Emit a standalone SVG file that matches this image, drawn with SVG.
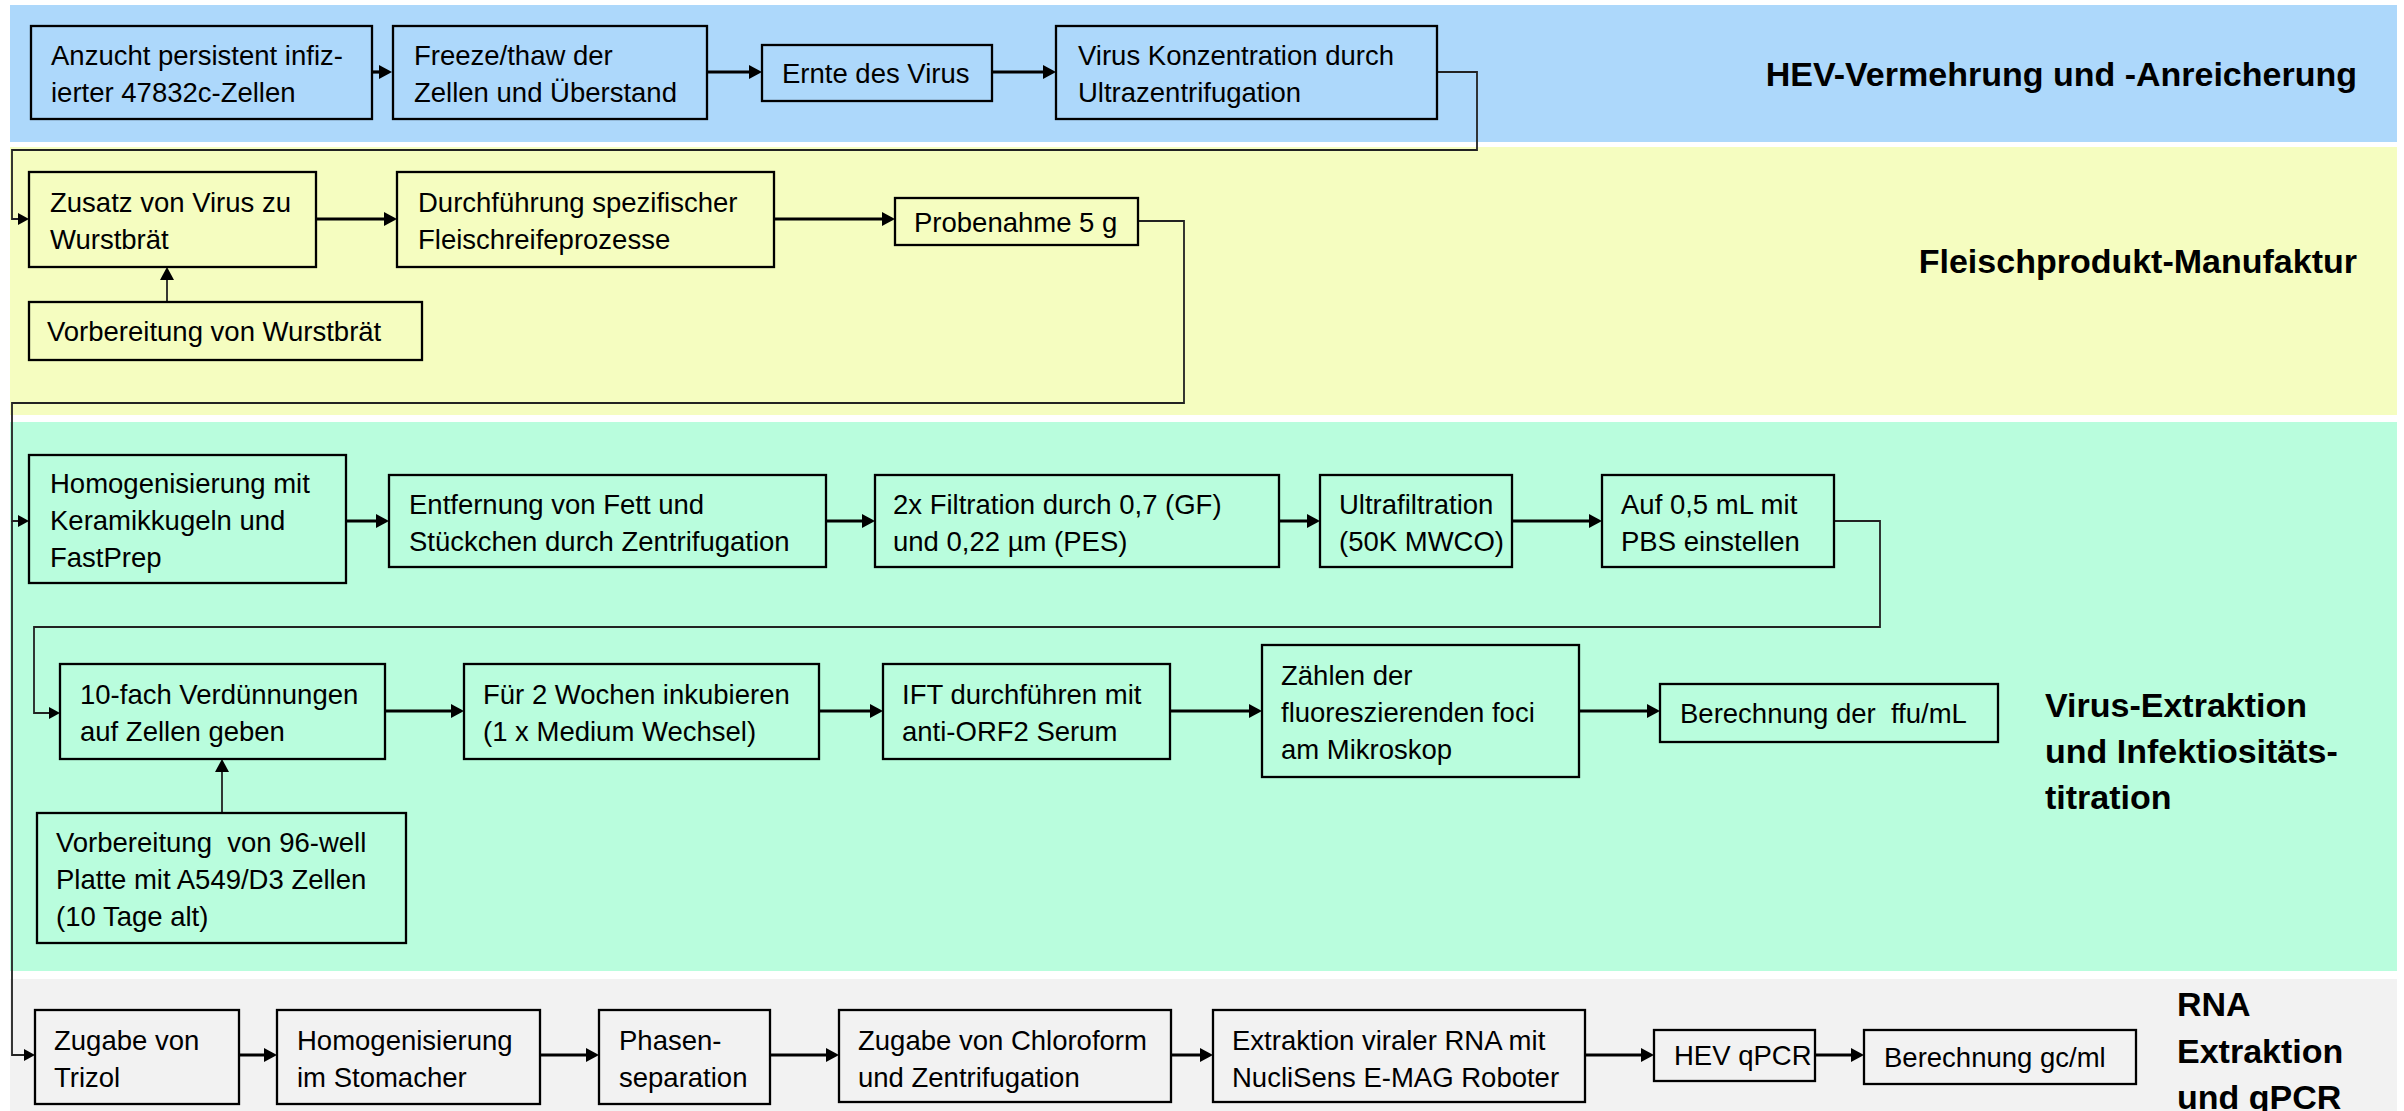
<svg xmlns="http://www.w3.org/2000/svg" width="2404" height="1111" viewBox="0 0 2404 1111">
<defs>
<style>
.t{font-family:"Liberation Sans",Arial,sans-serif;font-size:27.5px;fill:#000;white-space:pre}
.h{font-family:"Liberation Sans",Arial,sans-serif;font-size:34px;font-weight:bold;fill:#000}
.b{stroke:#000;stroke-width:2.3}
.blue{fill:#ADD8FB}.yel{fill:#F5FDC0}.grn{fill:#B9FDDD}.gry{fill:#F2F2F2}
.a{fill:none;stroke:#000;stroke-width:3.2}
.c{fill:none;stroke:#222;stroke-width:1.8}
</style>
<marker id="ah" markerUnits="userSpaceOnUse" markerWidth="14" markerHeight="14" refX="9" refY="7" orient="auto"><path d="M0,0 L13,7 L0,14 z" fill="#000"/></marker>
<marker id="ahs" markerUnits="userSpaceOnUse" markerWidth="12" markerHeight="12" refX="7" refY="6" orient="auto"><path d="M0,0 L11,6 L0,12 z" fill="#000"/></marker>
</defs>
<g id="bands">
<rect class="blue" x="10" y="5" width="2387" height="137"/>
<rect class="yel" x="10" y="147" width="2387" height="268"/>
<rect class="grn" x="10" y="422" width="2387" height="549"/>
<rect class="gry" x="10" y="979" width="2387" height="132"/>
</g>
<g id="titles">
<text class="h" x="2357" y="86" text-anchor="end">HEV-Vermehrung und -Anreicherung</text>
<text class="h" x="2357" y="273" text-anchor="end">Fleischprodukt-Manufaktur</text>
<text class="h" x="2045" y="717">Virus-Extraktion</text>
<text class="h" x="2045" y="763">und Infektiositäts-</text>
<text class="h" x="2045" y="809">titration</text>
<text class="h" x="2177" y="1016">RNA</text>
<text class="h" x="2177" y="1063">Extraktion</text>
<text class="h" x="2177" y="1109">und qPCR</text>
</g>
<g id="connectors">
<line class="a" x1="372" y1="72" x2="388" y2="72" marker-end="url(#ah)"/>
<line class="a" x1="707" y1="72" x2="758" y2="72" marker-end="url(#ah)"/>
<line class="a" x1="992" y1="72" x2="1052" y2="72" marker-end="url(#ah)"/>
<path class="c" d="M1437,72 H1477 V150 H12 V219 H25" marker-end="url(#ahs)"/>
<line class="a" x1="316" y1="219" x2="393" y2="219" marker-end="url(#ah)"/>
<line class="a" x1="774" y1="219" x2="891" y2="219" marker-end="url(#ah)"/>
<line class="c" x1="167" y1="302" x2="167" y2="271" marker-end="url(#ah)"/>
<path class="c" d="M1138,221 H1184 V403 H12 V521 H25" marker-end="url(#ahs)"/>
<line class="a" x1="346" y1="521" x2="385" y2="521" marker-end="url(#ah)"/>
<line class="a" x1="826" y1="521" x2="871" y2="521" marker-end="url(#ah)"/>
<line class="a" x1="1279" y1="521" x2="1316" y2="521" marker-end="url(#ah)"/>
<line class="a" x1="1512" y1="521" x2="1598" y2="521" marker-end="url(#ah)"/>
<path class="c" d="M1834,521 H1880 V627 H34 V713 H56" marker-end="url(#ahs)"/>
<line class="a" x1="385" y1="711" x2="460" y2="711" marker-end="url(#ah)"/>
<line class="a" x1="819" y1="711" x2="879" y2="711" marker-end="url(#ah)"/>
<line class="a" x1="1170" y1="711" x2="1258" y2="711" marker-end="url(#ah)"/>
<line class="a" x1="1579" y1="711" x2="1656" y2="711" marker-end="url(#ah)"/>
<line class="c" x1="222" y1="812" x2="222" y2="763" marker-end="url(#ah)"/>
<path class="c" d="M12,521 V1055 H31" marker-end="url(#ahs)"/>
<line class="a" x1="239" y1="1055" x2="273" y2="1055" marker-end="url(#ah)"/>
<line class="a" x1="540" y1="1055" x2="595" y2="1055" marker-end="url(#ah)"/>
<line class="a" x1="770" y1="1055" x2="835" y2="1055" marker-end="url(#ah)"/>
<line class="a" x1="1171" y1="1055" x2="1209" y2="1055" marker-end="url(#ah)"/>
<line class="a" x1="1585" y1="1055" x2="1650" y2="1055" marker-end="url(#ah)"/>
<line class="a" x1="1815" y1="1055" x2="1860" y2="1055" marker-end="url(#ah)"/>
</g>
<g id="n1"><rect class="b blue" x="31" y="26" width="341" height="93"/><text class="t" x="51" y="65">Anzucht persistent infiz-</text><text class="t" x="51" y="102">ierter 47832c-Zellen</text></g>
<g id="n2"><rect class="b blue" x="393" y="26" width="314" height="93"/><text class="t" x="414" y="65">Freeze/thaw der</text><text class="t" x="414" y="102">Zellen und Überstand</text></g>
<g id="n3"><rect class="b blue" x="762" y="45" width="230" height="56"/><text class="t" x="782" y="83">Ernte des Virus</text></g>
<g id="n4"><rect class="b blue" x="1056" y="26" width="381" height="93"/><text class="t" x="1078" y="65">Virus Konzentration durch</text><text class="t" x="1078" y="102">Ultrazentrifugation</text></g>
<g id="n5"><rect class="b yel" x="29" y="172" width="287" height="95"/><text class="t" x="50" y="212">Zusatz von Virus zu</text><text class="t" x="50" y="249">Wurstbrät</text></g>
<g id="n6"><rect class="b yel" x="397" y="172" width="377" height="95"/><text class="t" x="418" y="212">Durchführung spezifischer</text><text class="t" x="418" y="249">Fleischreifeprozesse</text></g>
<g id="n7"><rect class="b yel" x="895" y="198" width="243" height="47"/><text class="t" x="914" y="232">Probenahme 5 g</text></g>
<g id="n8"><rect class="b yel" x="29" y="302" width="393" height="58"/><text class="t" x="47" y="341">Vorbereitung von Wurstbrät</text></g>
<g id="n9"><rect class="b grn" x="29" y="455" width="317" height="128"/><text class="t" x="50" y="493">Homogenisierung mit</text><text class="t" x="50" y="530">Keramikkugeln und</text><text class="t" x="50" y="567">FastPrep</text></g>
<g id="n10"><rect class="b grn" x="389" y="475" width="437" height="92"/><text class="t" x="409" y="514">Entfernung von Fett und</text><text class="t" x="409" y="551">Stückchen durch Zentrifugation</text></g>
<g id="n11"><rect class="b grn" x="875" y="475" width="404" height="92"/><text class="t" x="893" y="514">2x Filtration durch 0,7 (GF)</text><text class="t" x="893" y="551">und 0,22 µm (PES)</text></g>
<g id="n12"><rect class="b grn" x="1320" y="475" width="192" height="92"/><text class="t" x="1339" y="514">Ultrafiltration</text><text class="t" x="1339" y="551">(50K MWCO)</text></g>
<g id="n13"><rect class="b grn" x="1602" y="475" width="232" height="92"/><text class="t" x="1621" y="514">Auf 0,5 mL mit</text><text class="t" x="1621" y="551">PBS einstellen</text></g>
<g id="n14"><rect class="b grn" x="60" y="664" width="325" height="95"/><text class="t" x="80" y="704">10-fach Verdünnungen</text><text class="t" x="80" y="741">auf Zellen geben</text></g>
<g id="n15"><rect class="b grn" x="464" y="664" width="355" height="95"/><text class="t" x="483" y="704">Für 2 Wochen inkubieren</text><text class="t" x="483" y="741">(1 x Medium Wechsel)</text></g>
<g id="n16"><rect class="b grn" x="883" y="664" width="287" height="95"/><text class="t" x="902" y="704">IFT durchführen mit</text><text class="t" x="902" y="741">anti-ORF2 Serum</text></g>
<g id="n17"><rect class="b grn" x="1262" y="645" width="317" height="132"/><text class="t" x="1281" y="685">Zählen der</text><text class="t" x="1281" y="722">fluoreszierenden foci</text><text class="t" x="1281" y="759">am Mikroskop</text></g>
<g id="n18"><rect class="b grn" x="1660" y="684" width="338" height="58"/><text class="t" x="1680" y="723">Berechnung der  ffu/mL</text></g>
<g id="n19"><rect class="b grn" x="37" y="813" width="369" height="130"/><text class="t" x="56" y="852">Vorbereitung  von 96-well</text><text class="t" x="56" y="889">Platte mit A549/D3 Zellen</text><text class="t" x="56" y="926">(10 Tage alt)</text></g>
<g id="n20"><rect class="b gry" x="35" y="1010" width="204" height="94"/><text class="t" x="54" y="1050">Zugabe von</text><text class="t" x="54" y="1087">Trizol</text></g>
<g id="n21"><rect class="b gry" x="277" y="1010" width="263" height="94"/><text class="t" x="297" y="1050">Homogenisierung</text><text class="t" x="297" y="1087">im Stomacher</text></g>
<g id="n22"><rect class="b gry" x="599" y="1010" width="171" height="94"/><text class="t" x="619" y="1050">Phasen-</text><text class="t" x="619" y="1087">separation</text></g>
<g id="n23"><rect class="b gry" x="839" y="1010" width="332" height="92"/><text class="t" x="858" y="1050">Zugabe von Chloroform</text><text class="t" x="858" y="1087">und Zentrifugation</text></g>
<g id="n24"><rect class="b gry" x="1213" y="1010" width="372" height="92"/><text class="t" x="1232" y="1050">Extraktion viraler RNA mit</text><text class="t" x="1232" y="1087">NucliSens E-MAG Roboter</text></g>
<g id="n25"><rect class="b gry" x="1654" y="1030" width="161" height="51"/><text class="t" x="1674" y="1065">HEV qPCR</text></g>
<g id="n26"><rect class="b gry" x="1864" y="1030" width="272" height="54"/><text class="t" x="1884" y="1067">Berechnung gc/ml</text></g>
</svg>
